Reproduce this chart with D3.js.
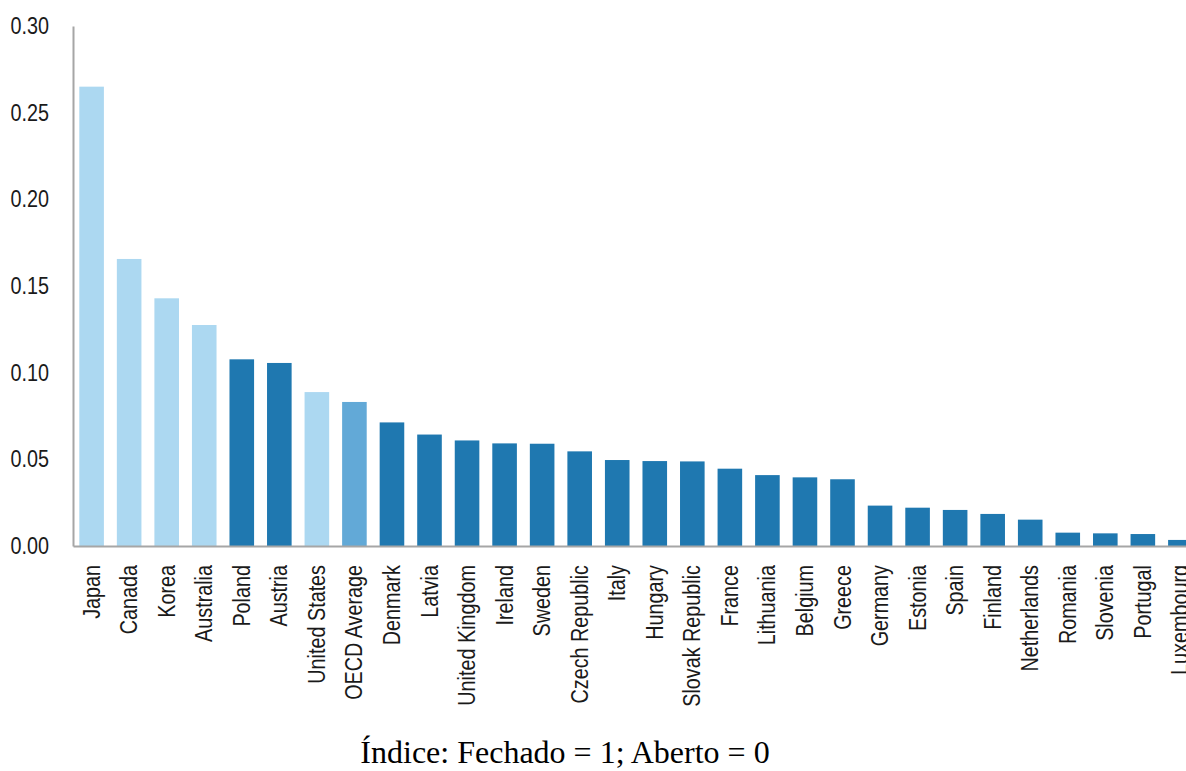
<!DOCTYPE html>
<html>
<head>
<meta charset="utf-8">
<script src="https://cdn.jsdelivr.net/npm/d3@7/dist/d3.min.js"></script>
<style>
  html, body { margin: 0; padding: 0; background: #fff; }
  svg { display: block; }
</style>
</head>
<body>
<svg id="chart" width="1186" height="771"></svg>
<script>
// Índice de restritividade (Fechado = 1; Aberto = 0), por país
const countries = [
  "Japan", "Canada", "Korea", "Australia", "Poland", "Austria", "United States",
  "OECD Average", "Denmark", "Latvia", "United Kingdom", "Ireland", "Sweden",
  "Czech Republic", "Italy", "Hungary", "Slovak Republic", "France", "Lithuania",
  "Belgium", "Greece", "Germany", "Estonia", "Spain", "Finland", "Netherlands",
  "Romania", "Slovenia", "Portugal", "Luxembourg"
];
const indexValues = [
  0.265, 0.1656, 0.1429, 0.1275, 0.1077, 0.1056, 0.0888,
  0.0831, 0.0713, 0.0643, 0.0609, 0.0592, 0.0590,
  0.0546, 0.0496, 0.0490, 0.0488, 0.0446, 0.0409,
  0.0396, 0.0385, 0.0233, 0.0221, 0.0208, 0.0185, 0.0152,
  0.0077, 0.0073, 0.0069, 0.0035
];
// group of each bar: "light", "average" or "dark"
const groups = [
  "light", "light", "light", "light", "dark", "dark", "light",
  "average", "dark", "dark", "dark", "dark", "dark",
  "dark", "dark", "dark", "dark", "dark", "dark",
  "dark", "dark", "dark", "dark", "dark", "dark", "dark",
  "dark", "dark", "dark", "dark"
];
const yTicks = [0, 0.05, 0.10, 0.15, 0.20, 0.25, 0.30];
const footnote = "Índice: Fechado = 1; Aberto = 0";

const data = countries.map((c, i) => ({ country: c, value: indexValues[i], group: groups[i] }));

const svg = d3.select("#chart");
const axisX = 73, baseY = 546, topY = 26;
const squeeze = 0.86; // condensed look for the sans labels

const x = d3.scaleBand()
  .domain(countries)
  .range([axisX, 1199])
  .paddingInner(0.345)
  .paddingOuter(0.168);

const y = d3.scaleLinear()
  .domain([0, 0.30])
  .range([baseY, topY]);

const color = d3.scaleOrdinal()
  .domain(["light", "average", "dark"])
  .range(["#acd8f1", "#62a9d7", "#1f78b0"]);

const sans = "'Liberation Sans', Arial, sans-serif";

// bars
svg.append("g")
  .selectAll("rect")
  .data(data)
  .join("rect")
  .attr("x", d => x(d.country))
  .attr("y", d => y(d.value))
  .attr("width", x.bandwidth())
  .attr("height", d => y(0) - y(d.value))
  .attr("fill", d => color(d.group));

// y axis
const yAxis = svg.append("g")
  .attr("transform", `translate(${axisX},0)`)
  .call(d3.axisLeft(y).tickValues(yTicks).tickFormat(d3.format(".2f")).tickSize(0));
yAxis.select(".domain").attr("stroke", "#a6a6a6").attr("stroke-width", 2);
yAxis.selectAll("text")
  .attr("font-family", sans)
  .attr("font-size", 23)
  .attr("fill", "#1a1a1a")
  .attr("x", -24 / squeeze)
  .attr("transform", `scale(${squeeze},1)`);

// baseline / x axis
const xAxis = svg.append("g")
  .attr("transform", `translate(0,${baseY})`)
  .call(d3.axisBottom(x).tickSize(0).tickPadding(0));
xAxis.select(".domain").attr("stroke", "#a6a6a6").attr("stroke-width", 2);
xAxis.selectAll("text")
  .attr("font-family", sans)
  .attr("font-size", 23)
  .attr("fill", "#1a1a1a")
  .attr("text-anchor", "end")
  .attr("transform", `translate(0,19) rotate(-90) scale(${squeeze},1)`)
  .attr("x", 0)
  .attr("y", 0)
  .attr("dy", "0.35em");

// footnote
svg.append("text")
  .attr("x", 565)
  .attr("y", 763)
  .attr("text-anchor", "middle")
  .attr("font-family", "'Liberation Serif', 'Times New Roman', serif")
  .attr("font-size", 32)
  .attr("fill", "#000")
  .text(footnote);
</script>
</body>
</html>
